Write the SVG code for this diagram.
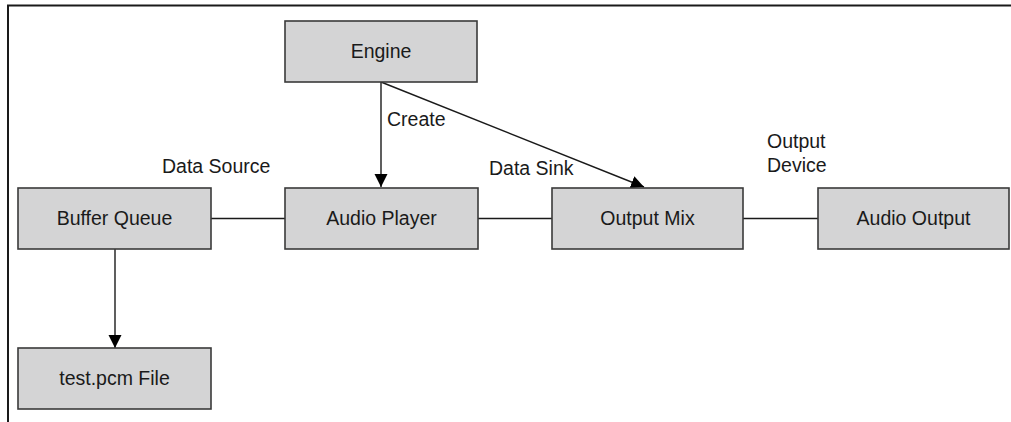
<svg xmlns="http://www.w3.org/2000/svg" width="1011" height="422" viewBox="0 0 1011 422">
  <style>
    .box { fill: #d4d4d5; stroke: #3a3a3a; stroke-width: 1.6; }
    .lbl { font-family: "Liberation Sans", Arial, sans-serif; font-size: 19.5px; fill: #1a1a1a; }
    .mid { text-anchor: middle; }
    .conn { stroke: #1a1a1a; stroke-width: 1.4; fill: none; }
    .frame { stroke: #1a1a1a; stroke-width: 2; fill: none; }
  </style>
  <defs>
    <marker id="arrow" markerUnits="userSpaceOnUse" markerWidth="14" markerHeight="14" viewBox="0 0 14 14" refX="13" refY="7" orient="auto">
      <path d="M0,0.5 L13,7 L0,13.5 Z" fill="#000"/>
    </marker>
  </defs>
  <rect width="1011" height="422" fill="#fff"/>
  <path class="frame" d="M8,422 L8,5.5 L1011,5.5"/>

  <g id="connectors">
    <line class="conn" x1="381" y1="82" x2="381" y2="187" marker-end="url(#arrow)"/>
    <line class="conn" x1="381" y1="82" x2="644" y2="187" marker-end="url(#arrow)"/>
    <line class="conn" x1="211" y1="218.5" x2="285" y2="218.5"/>
    <line class="conn" x1="478" y1="218.5" x2="552" y2="218.5"/>
    <line class="conn" x1="743" y1="218.5" x2="818" y2="218.5"/>
    <line class="conn" x1="115" y1="249" x2="115" y2="348" marker-end="url(#arrow)"/>
    <text class="lbl" x="387" y="126">Create</text>
    <text class="lbl" x="162" y="173">Data Source</text>
    <text class="lbl" x="489" y="175">Data Sink</text>
    <text class="lbl" x="767" y="148">Output</text>
    <text class="lbl" x="767" y="172">Device</text>
  </g>

  <g id="engine">
    <rect class="box" x="285" y="21" width="192" height="61"/>
    <text class="lbl mid" x="381" y="58">Engine</text>
  </g>
  <g id="buffer-queue">
    <rect class="box" x="18" y="188" width="193" height="61"/>
    <text class="lbl mid" x="114.5" y="225">Buffer Queue</text>
  </g>
  <g id="audio-player">
    <rect class="box" x="285" y="188" width="193" height="61"/>
    <text class="lbl mid" x="381.5" y="225">Audio Player</text>
  </g>
  <g id="output-mix">
    <rect class="box" x="552" y="188" width="191" height="61"/>
    <text class="lbl mid" x="647.5" y="225">Output Mix</text>
  </g>
  <g id="audio-output">
    <rect class="box" x="818" y="188" width="191" height="61"/>
    <text class="lbl mid" x="913.5" y="225">Audio Output</text>
  </g>
  <g id="test-pcm-file">
    <rect class="box" x="18" y="348" width="193" height="61"/>
    <text class="lbl mid" x="114.5" y="385">test.pcm File</text>
  </g>
</svg>
